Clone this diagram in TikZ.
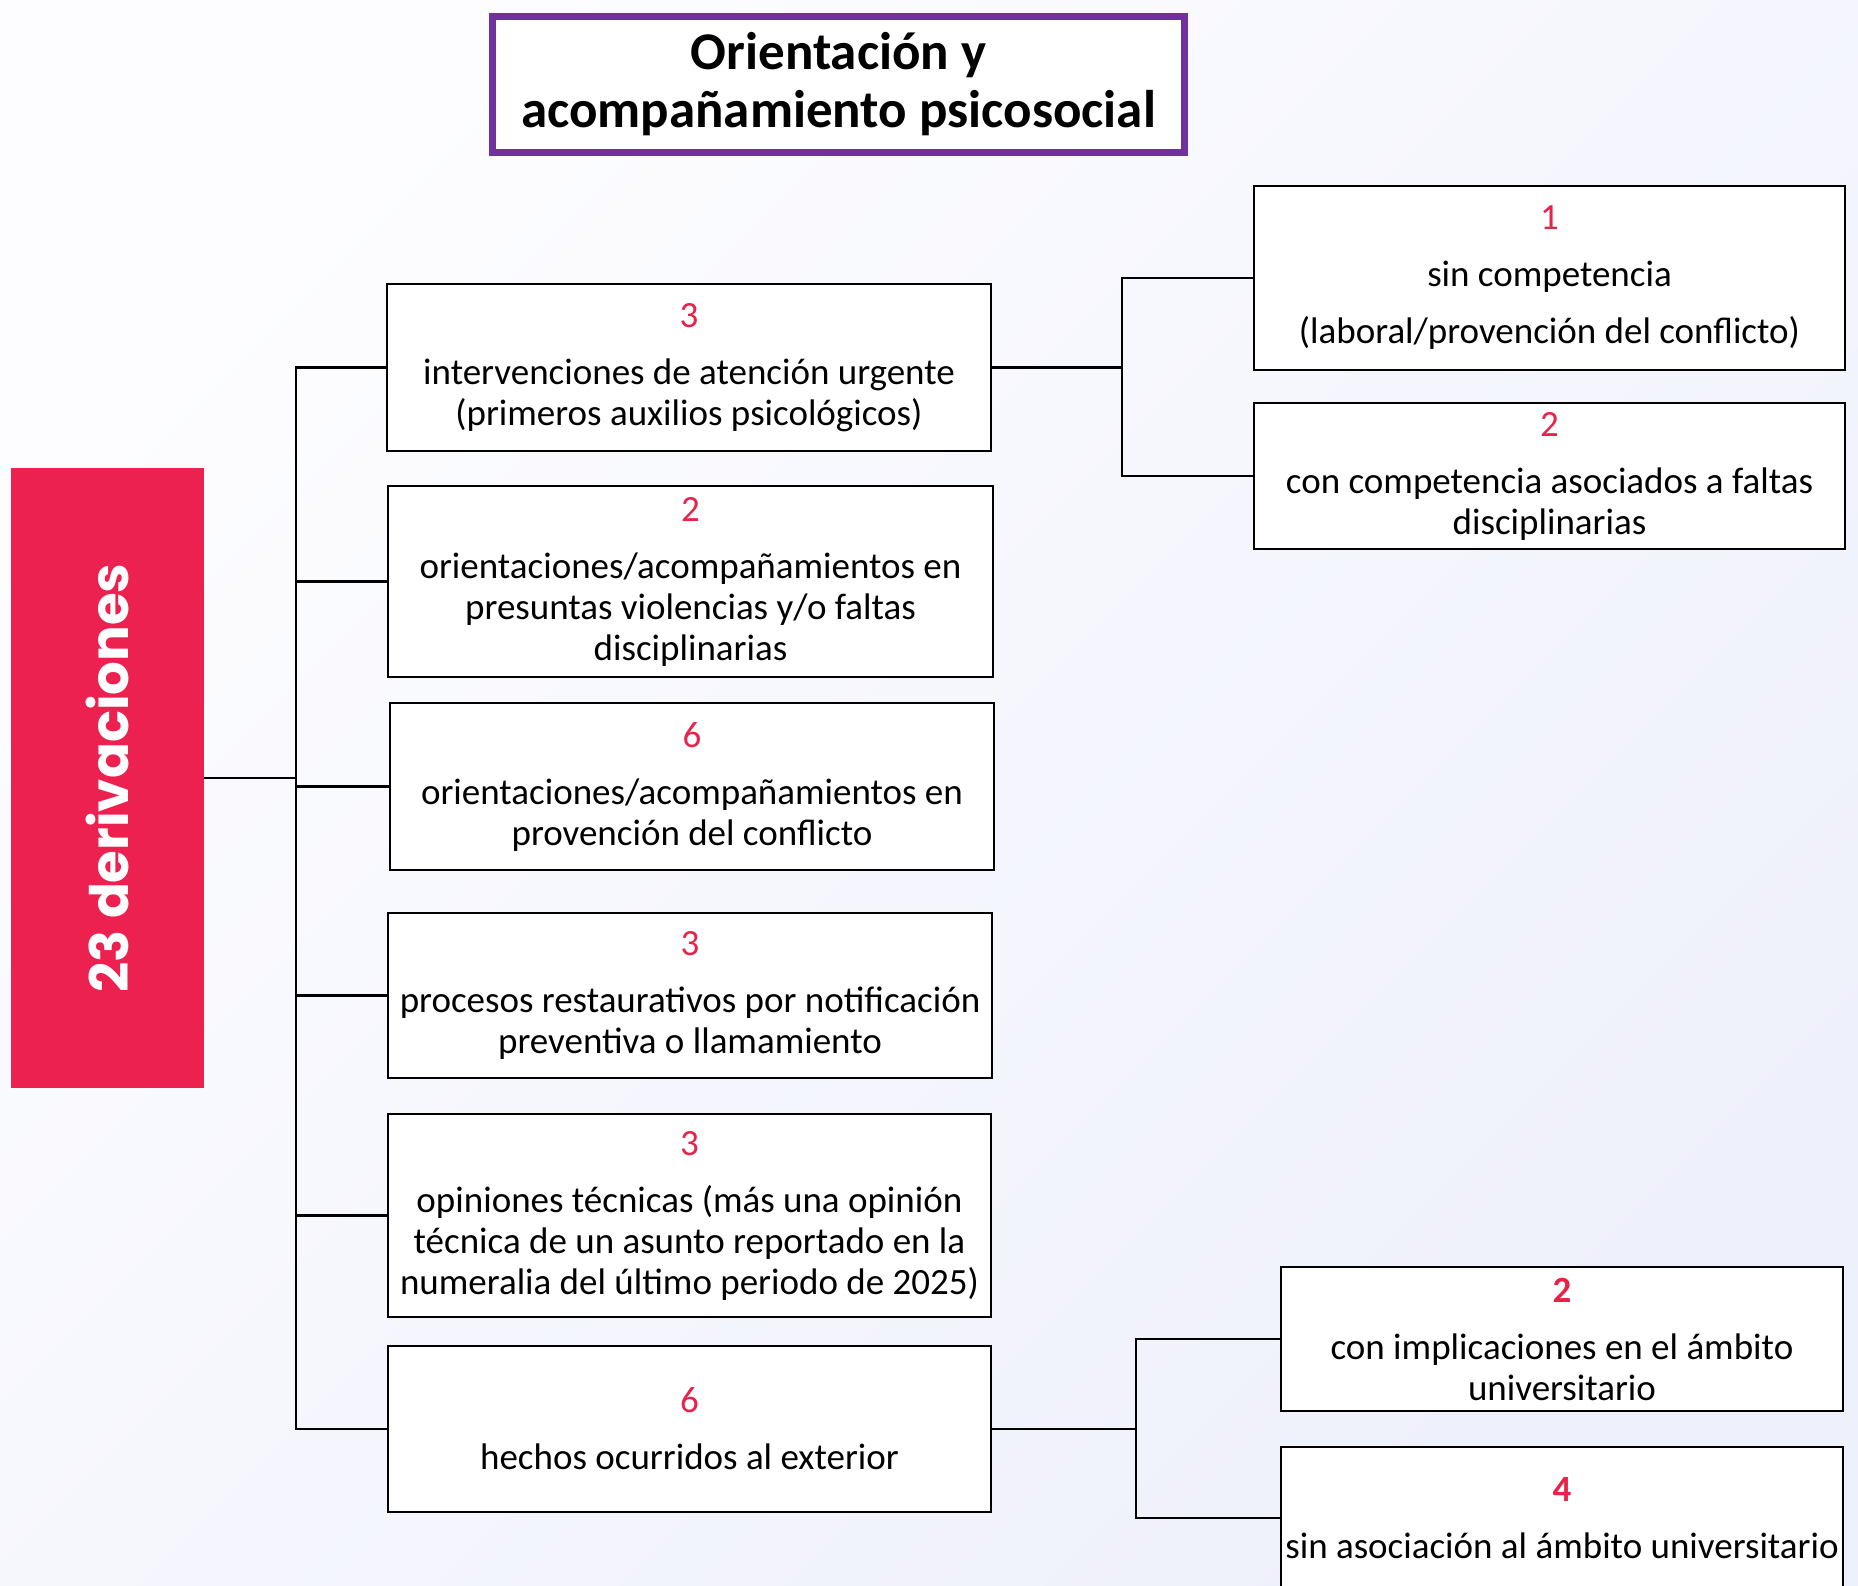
\documentclass[tikz,border=0pt]{standalone}
\usepackage{fontspec}
\setmainfont{Carlito}
\newfontfamily\popfont{Poppins}
\definecolor{numred}{HTML}{E8234A}
\definecolor{boxred}{HTML}{EC2150}
\definecolor{titlepurple}{HTML}{7030A0}
\definecolor{bgA}{HTML}{FDFDFF}
\definecolor{bgB}{HTML}{EEF0FB}
\begin{document}
\begin{tikzpicture}[x=1pt,y=-1pt,
  item/.style={draw=black, line width=2.5pt, fill=white, rectangle, align=center,
    inner sep=0pt, font=\fontsize{37}{41}\selectfont},
  conn/.style={line width=2.5pt, black}]
\path[use as bounding box, top color=bgA, bottom color=bgB, shading angle=45] (0,0) rectangle (1858,1585);
% title
\node[draw=titlepurple, line width=7pt, fill=white, minimum width=692pt, minimum height=136pt,
  align=center, inner sep=0pt, font=\bfseries\fontsize{53}{58}\selectfont] (title) at (838.5,84.5)
  {Orientación y\\acompañamiento psicosocial};
% red box
\node[fill=boxred, rotate=90, minimum width=620pt, minimum height=193pt, inner sep=0pt,
  text=white, font=\popfont\bfseries\fontsize{53}{58}\selectfont] (red) at (107.5,778) {23 derivaciones};
% middle boxes
\node[item, minimum width=604pt, minimum height=167pt] (b1) at (689,367.5)
  {\textcolor{numred}{3}\\[16pt]intervenciones de atención urgente\\(primeros auxilios psicológicos)};
\node[item, minimum width=605pt, minimum height=191pt] (b2) at (690.5,581.5)
  {\textcolor{numred}{2}\\[16pt]orientaciones/acompañamientos en\\presuntas violencias y/o faltas\\disciplinarias};
\node[item, minimum width=604pt, minimum height=167pt] (b3) at (692,786.5)
  {\textcolor{numred}{6}\\[16pt]orientaciones/acompañamientos en\\provención del conflicto};
\node[item, minimum width=604pt, minimum height=165pt] (b4) at (690,995.5)
  {\textcolor{numred}{3}\\[16pt]procesos restaurativos por notificación\\preventiva o llamamiento};
\node[item, minimum width=603pt, minimum height=203pt] (b5) at (689.5,1215.5)
  {\textcolor{numred}{3}\\[16pt]opiniones técnicas (más una opinión\\técnica de un asunto reportado en la\\numeralia del último periodo de 2025)};
\node[item, minimum width=603pt, minimum height=166pt] (b6) at (689.5,1429)
  {\textcolor{numred}{6}\\[16pt]hechos ocurridos al exterior};
% right boxes
\node[item, minimum width=591pt, minimum height=184pt] (r1) at (1549.5,278)
  {\textcolor{numred}{1}\\[16pt]sin competencia\\[16pt](laboral/provención del conflicto)};
\node[item, minimum width=591pt, minimum height=146pt] (r2) at (1549.5,476)
  {\textcolor{numred}{2}\\[16pt]con competencia asociados a faltas\\disciplinarias};
\node[item, minimum width=562pt, minimum height=144pt] (rA) at (1562,1339)
  {\textcolor{numred}{\bfseries 2}\\[16pt]con implicaciones en el ámbito\\universitario};
\node[item, minimum width=562pt, minimum height=142pt] (rB) at (1562,1518)
  {\textcolor{numred}{\bfseries 4}\\[16pt]sin asociación al ámbito universitario};
% connectors
\coordinate (trunk) at (296,0);
\coordinate (jr1) at (1122,0);
\coordinate (jr2) at (1136,0);
\draw[conn] (red.south) -- (red.south -| trunk);
\draw[conn] (b1.west) -- (b1.west -| trunk) -- (b6.west -| trunk) -- (b6.west);
\draw[conn] (b2.west) -- (b2.west -| trunk);
\draw[conn] (b3.west) -- (b3.west -| trunk);
\draw[conn] (b4.west) -- (b4.west -| trunk);
\draw[conn] (b5.west) -- (b5.west -| trunk);
\draw[conn] (b1.east) -- (b1.east -| jr1);
\draw[conn] (r1.west) -- (r1.west -| jr1) -- (r2.west -| jr1) -- (r2.west);
\draw[conn] (b6.east) -- (b6.east -| jr2);
\draw[conn] (rA.west) -- (rA.west -| jr2) -- (rB.west -| jr2) -- (rB.west);
\end{tikzpicture}
\end{document}
